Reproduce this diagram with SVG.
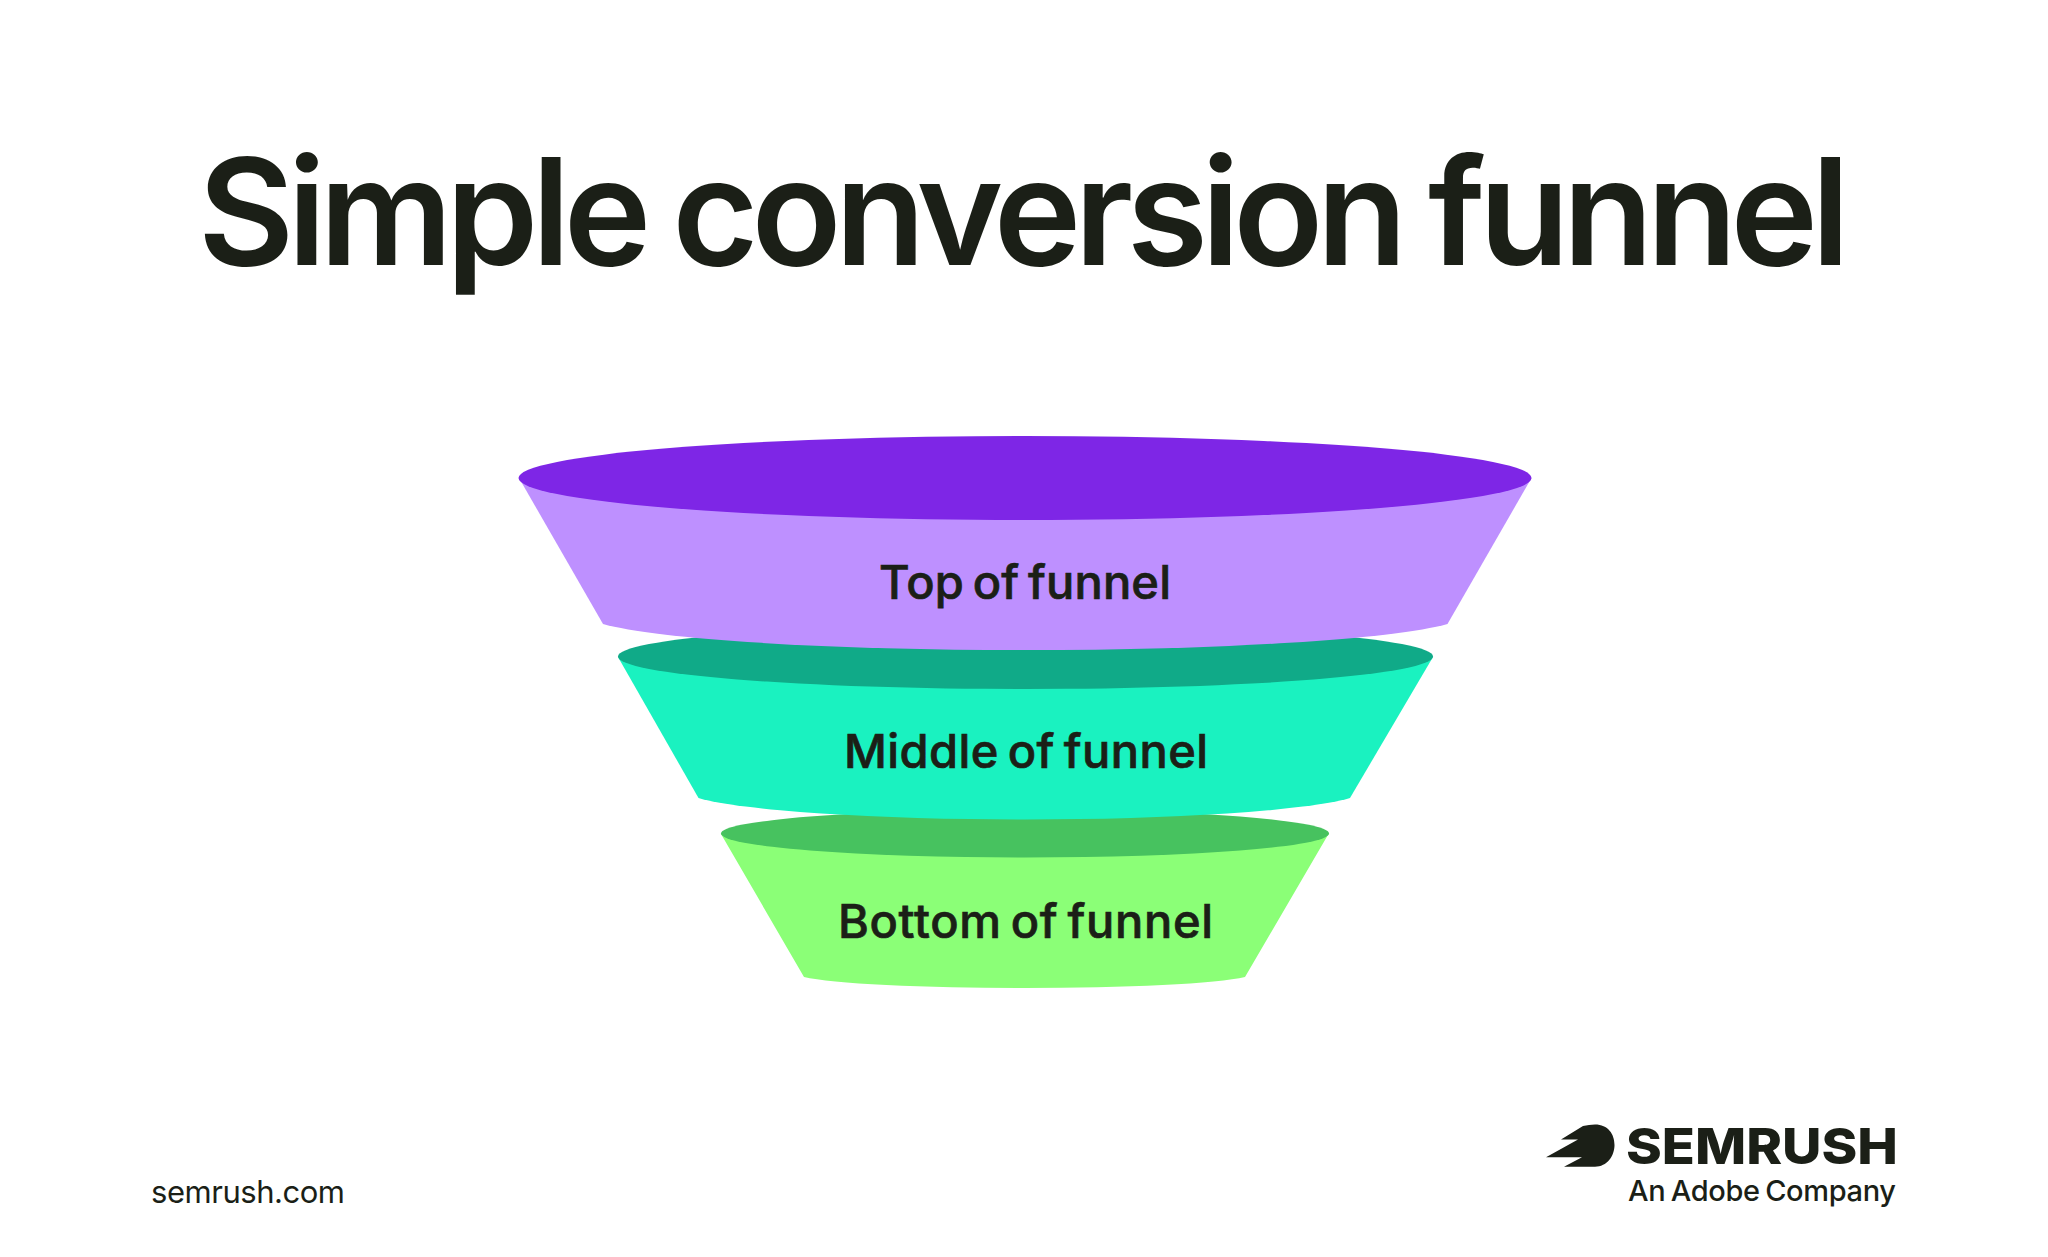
<svg xmlns="http://www.w3.org/2000/svg" width="2048" height="1257" viewBox="0 0 2048 1257">
<style>
text{font-family:Inter,"Liberation Sans",sans-serif;fill:#1b1f17}
.label{font-size:47px;font-weight:500;word-spacing:-4px;stroke:#1b1f17;stroke-width:0.7px}
.title{font-size:148px;font-weight:600;word-spacing:-3px}
</style>
<rect width="2048" height="1257" fill="#fff"/>
<text id="title" class="title" x="198" y="265" textLength="1652">Simple conversion funnel</text>
<g id="node-bottom">
<path d="M721,834 L804,977 A229.5,15.3 0 0 0 1245,977 L1328.5,834 Z" fill="#8bff77"/>
<ellipse cx="1025" cy="833.500" rx="304" ry="24" fill="#47c25f"/>
<text class="label" x="838" y="938" textLength="375">Bottom of funnel</text>
</g>
<g id="node-middle">
<path d="M618,657 L698.500,798 A340,30 0 0 0 1350,798 L1433,657 Z" fill="#1af2c0"/>
<ellipse cx="1025.500" cy="656.500" rx="407.500" ry="32.500" fill="#10aa88"/>
<text class="label" x="844" y="768" textLength="364">Middle of funnel</text>
</g>
<g id="node-top">
<path d="M519,478 L603,624 A440,36.3 0 0 0 1447.500,624 L1531.500,478 Z" fill="#be90ff"/>
<ellipse cx="1025" cy="478" rx="506.500" ry="42" fill="#7e26e6"/>
<text class="label" x="879" y="599" textLength="292">Top of funnel</text>
</g>
<g id="connectors"/>
<text id="site" x="151" y="1203" font-size="31" textLength="194">semrush.com</text>
<g id="logo">
<path d="M1595,1124.500 C1608,1124.500 1614.500,1134 1614.500,1145 C1614.500,1156 1607,1166.700 1595,1166.700 L1564,1166.700 L1582,1157.300 L1546,1157.300 L1578,1139.500 L1561,1139.500 L1583,1126 Q1589,1124.500 1595,1124.500 Z" fill="#1b1f17"/>
<text x="1626" y="1164" font-size="50" font-weight="800" textLength="272" lengthAdjust="spacingAndGlyphs">SEMRUSH</text>
<text x="1628" y="1201" font-size="29" font-weight="500" word-spacing="-2" textLength="268">An Adobe Company</text>
</g>
</svg>
